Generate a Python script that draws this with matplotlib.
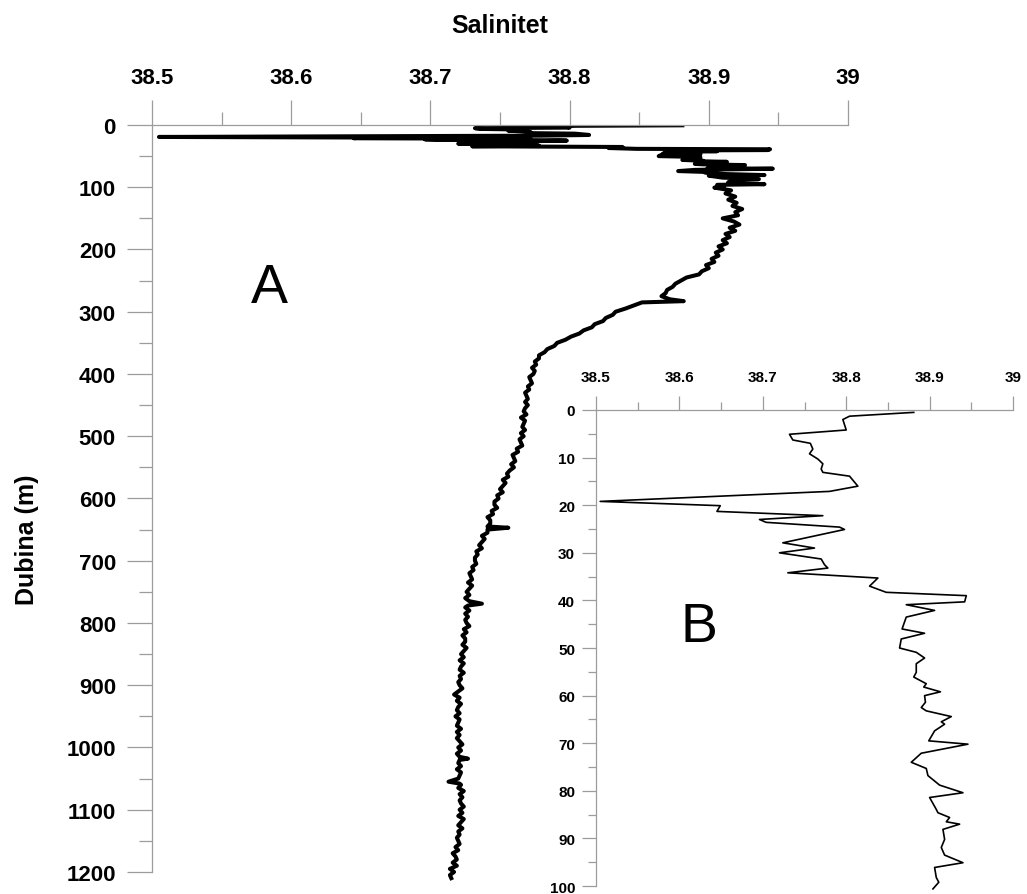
import matplotlib
matplotlib.use('Agg')
import matplotlib.pyplot as plt
from matplotlib.ticker import MultipleLocator, FuncFormatter

plt.rcParams['font.family'] = ['Liberation Sans', 'DejaVu Sans']

# gornjih 100 m profila (isti podaci za umetak B)
dub_gore = [0.5, 1.3, 2.0, 4.2, 5.1, 6.3, 7.0, 8.2, 9.2, 10.3, 11.3, 12.4, 13.1, 13.9,
            16.0, 17.1, 19.2, 20.1, 21.3, 22.2, 23.0, 23.6, 24.6, 25.1, 27.9, 29.0,
            30.0, 31.3, 32.5, 33.2, 34.2, 35.3, 37.0, 38.3, 39.0, 40.3, 40.9, 42.1,
            43.5, 46.0, 46.9, 48.1, 50.0, 50.9, 52.1, 53.3, 55.1, 56.1, 57.5, 58.2,
            59.2, 60.0, 61.4, 62.5, 63.2, 64.4, 65.5, 66.0, 67.4, 69.5, 70.2, 72.1,
            74.0, 75.3, 76.8, 78.8, 80.4, 81.4, 83.9, 84.6, 85.6, 86.5, 87.0, 88.1,
            90.2, 91.9, 93.5, 95.1, 96.1, 98.2, 99.2, 100.6]
sal_gore = [38.881, 38.804, 38.796, 38.800, 38.732, 38.736, 38.757, 38.760, 38.756, 38.766,
            38.772, 38.770, 38.772, 38.804, 38.814, 38.780, 38.505, 38.649, 38.645, 38.772,
            38.696, 38.704, 38.792, 38.798, 38.724, 38.762, 38.720, 38.770, 38.774, 38.778,
            38.730, 38.838, 38.828, 38.848, 38.944, 38.942, 38.872, 38.906, 38.872, 38.867,
            38.894, 38.866, 38.864, 38.884, 38.894, 38.884, 38.884, 38.881, 38.896, 38.893,
            38.913, 38.894, 38.895, 38.890, 38.896, 38.926, 38.914, 38.918, 38.906, 38.899,
            38.946, 38.890, 38.878, 38.896, 38.898, 38.912, 38.940, 38.900, 38.908, 38.910,
            38.924, 38.920, 38.936, 38.916, 38.918, 38.914, 38.918, 38.940, 38.906, 38.908,
            38.911, 38.904]

# 105 - 395 m
dub_sred = [105, 110, 115, 120, 125, 130, 135, 140, 145, 150,
            155, 160, 165, 170, 175, 180, 185, 190, 195, 200,
            205, 210, 215, 220, 225, 230, 235, 240, 245, 250,
            255, 260, 265, 270, 275, 280, 283, 285, 290, 295,
            300, 305, 310, 315, 320, 325, 330, 335, 340, 345,
            350, 355, 360, 365, 370, 375, 380, 385, 390, 395]
sal_sred = [38.916, 38.912, 38.919, 38.914, 38.920, 38.917, 38.924, 38.919, 38.921, 38.910,
            38.918, 38.922, 38.915, 38.919, 38.912, 38.915, 38.910, 38.913, 38.907, 38.910,
            38.905, 38.907, 38.902, 38.904, 38.898, 38.900, 38.895, 38.893, 38.884, 38.880,
            38.876, 38.874, 38.870, 38.869, 38.866, 38.872, 38.882, 38.852, 38.846, 38.840,
            38.833, 38.831, 38.826, 38.824, 38.818, 38.816, 38.810, 38.807, 38.801, 38.797,
            38.791, 38.789, 38.784, 38.782, 38.778, 38.778, 38.775, 38.776, 38.773, 38.775]

# 400 - 1210 m
dub_duboko = [400, 405, 410, 415, 420, 425, 430, 435, 440, 445,
              450, 455, 460, 465, 470, 475, 480, 485, 490, 495,
              500, 505, 510, 515, 520, 525, 530, 535, 540, 545,
              550, 555, 560, 565, 570, 575, 580, 585, 590, 595,
              600, 605, 610, 615, 620, 625, 630, 635, 640, 645,
              647,
              650, 655, 660, 665, 670, 675, 680, 685, 690, 695,
              700, 705, 710, 715, 720, 725, 730, 735, 740, 745,
              750, 755, 760, 765,
              769, 772,
              775, 780, 785, 790, 795, 800, 805, 810, 815, 820,
              825, 830, 835, 840, 845, 850, 855, 860, 865, 870,
              875, 880, 885, 890, 895, 900, 905, 910, 915, 920,
              925, 930, 935, 940, 945, 950, 955, 960, 965, 970,
              975, 980, 985, 990, 995, 1000, 1005, 1010, 1015,
              1018,
              1020, 1025, 1030, 1035, 1040, 1045, 1050,
              1055, 1058,
              1060, 1065, 1070, 1075, 1080, 1085, 1090, 1095, 1100, 1105,
              1110, 1115, 1120, 1125, 1130, 1135, 1140, 1145, 1150, 1155,
              1160, 1165, 1170, 1175, 1180, 1185, 1190, 1195, 1200, 1205,
              1210]
sal_duboko = [38.774, 38.771, 38.772, 38.773, 38.770, 38.771, 38.768, 38.769, 38.770, 38.768,
              38.770, 38.768, 38.767, 38.769, 38.765, 38.768, 38.767, 38.766, 38.768, 38.765,
              38.767, 38.764, 38.765, 38.766, 38.762, 38.763, 38.759, 38.760, 38.761, 38.758,
              38.760, 38.757, 38.755, 38.756, 38.752, 38.754, 38.752, 38.750, 38.752, 38.748,
              38.749, 38.746, 38.746, 38.748, 38.744, 38.745, 38.741, 38.743, 38.743, 38.741,
              38.756,
              38.741, 38.741, 38.737, 38.739, 38.737, 38.735, 38.737, 38.733, 38.734, 38.732,
              38.732, 38.733, 38.730, 38.731, 38.728, 38.729, 38.730, 38.727, 38.730, 38.728,
              38.726, 38.728, 38.725, 38.728,
              38.737, 38.727,
              38.725, 38.728, 38.725, 38.727, 38.725, 38.726, 38.728, 38.724, 38.726, 38.723,
              38.725, 38.725, 38.723, 38.726, 38.724, 38.722, 38.724, 38.721, 38.724, 38.722,
              38.721, 38.724, 38.721, 38.722, 38.720, 38.721, 38.723, 38.720, 38.717, 38.721,
              38.719, 38.722, 38.720, 38.719, 38.721, 38.718, 38.721, 38.720, 38.719, 38.722,
              38.719, 38.721, 38.719, 38.721, 38.723, 38.720, 38.722, 38.719, 38.721,
              38.727,
              38.721, 38.720, 38.722, 38.719, 38.722, 38.721, 38.720,
              38.713, 38.721,
              38.722, 38.720, 38.724, 38.721, 38.723, 38.721, 38.722, 38.724, 38.721, 38.723,
              38.720, 38.724, 38.722, 38.720, 38.723, 38.720, 38.721, 38.719, 38.720, 38.721,
              38.718, 38.720, 38.716, 38.718, 38.719, 38.716, 38.719, 38.714, 38.717, 38.714,
              38.715]

GRAY = '#9c9c9c'
fmt = FuncFormatter(lambda v, p: f'{v:g}')


def osi(ax, ymax, yspan, maj_len, min_len, lab_fs, xpad, ypad, ymaj, ymin):
    ax.set_xlim(38.5, 39)
    ax.set_ylim(ymax, 0)
    ax.patch.set_alpha(0)
    for s in ('bottom', 'right'):
        ax.spines[s].set_visible(False)
    ax.spines['left'].set_bounds(0, yspan)
    for s in ('top', 'left'):
        ax.spines[s].set_color(GRAY)
        ax.spines[s].set_linewidth(0.9)
    ax.xaxis.tick_top()
    ax.xaxis.set_major_locator(MultipleLocator(0.1))
    ax.xaxis.set_minor_locator(MultipleLocator(0.05))
    ax.yaxis.set_major_locator(MultipleLocator(ymaj))
    ax.yaxis.set_minor_locator(MultipleLocator(ymin))
    ax.xaxis.set_major_formatter(fmt)
    ax.yaxis.set_major_formatter(fmt)
    ax.set_yticks([t for t in ax.get_yticks() if 0 <= t <= yspan])
    ax.set_yticks([t for t in ax.get_yticks(minor=True) if 0 <= t <= yspan], minor=True)
    ax.tick_params(which='both', direction='out', color=GRAY, width=0.9)
    ax.tick_params(which='major', length=maj_len, labelsize=lab_fs)
    ax.tick_params(which='minor', length=min_len)
    ax.tick_params(axis='x', which='major', pad=xpad)
    ax.tick_params(axis='y', which='major', pad=ypad)
    for lab in ax.get_xticklabels() + ax.get_yticklabels():
        lab.set_fontweight('bold')


fig = plt.figure(figsize=(10.27, 8.95), dpi=100)

# glavni graf A
ax = fig.add_axes([152 / 1027, 12.7 / 895, 696 / 1027, 756.3 / 895])
osi(ax, 1215, 1200, 18, 9.5, 16, 9, 8, 100, 50)
ax.plot(sal_gore + sal_sred + sal_duboko, dub_gore + dub_sred + dub_duboko,
        color='black', lw=2.9)
ax.text(38.584, 284, 'A', fontsize=40, ha='center', va='baseline')

fig.text(500 / 1027, 1 - 26 / 895, 'Salinitet', fontsize=18, fontweight='bold',
         ha='center', va='center')
fig.text(27 / 1027, 1 - 540 / 895, 'Dubina (m)', fontsize=18, fontweight='bold',
         ha='center', va='center', rotation=90)

# umetak B: gornjih 100 m
ax2 = fig.add_axes([596 / 1027, 3.2 / 895, 417 / 1027, 480.8 / 895])
osi(ax2, 101, 100, 10, 5.5, 11, 9, 5, 10, 5)
ax2.plot(sal_gore, dub_gore, color='black', lw=1.2)
ax2.text(38.6235, 48.5, 'B', fontsize=40, ha='center', va='baseline')

fig.savefig('out.png', dpi=100)
